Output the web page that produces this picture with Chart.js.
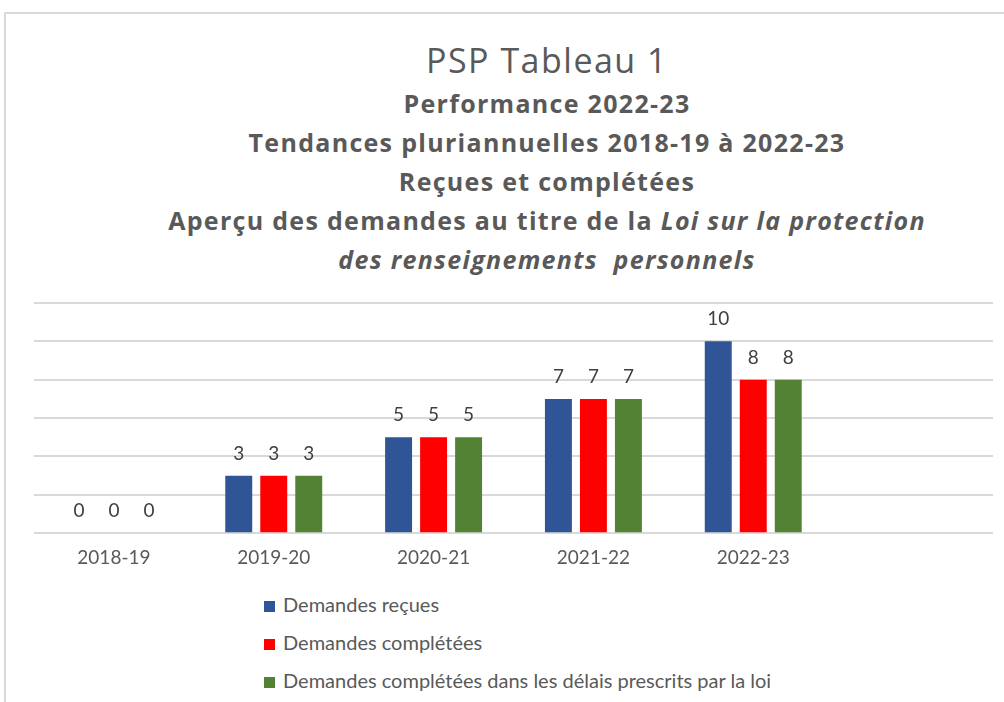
<!DOCTYPE html>
<html lang="fr">
<head>
  <meta charset="UTF-8">
  <title>PSP Tableau 1</title>
  <script src="https://cdn.jsdelivr.net/npm/chart.js"></script>
  <style>
    body {
      margin: 0;
      background: #fff;
      font-family: Lato, "Open Sans", sans-serif;
      color: #595959;
    }
    .frame {
      position: absolute;
      left: 4px;
      top: 12px;
      width: 1100px;
      height: 800px;
      border: 2px solid #d9d9d9;
    }
    .titles {
      position: absolute;
      left: 0;
      width: 1094px;
      text-align: center;
      white-space: nowrap;
      font-family: "Open Sans", sans-serif;
    }
    .main-title {
      top: 38px;
      font-size: 34px;
      letter-spacing: 1.5px;
      line-height: 44px;
    }
    .sub-title {
      top: 84px;
      font-size: 25px;
      letter-spacing: 1.3px;
      font-weight: bold;
      line-height: 39px;
    }
    .chart-box {
      position: absolute;
      left: 0;
      top: 280px;
      width: 1004px;
      height: 302px;
    }
    .legend {
      position: absolute;
      left: 264px;
      top: 590px;
      font-size: 20px;
    }
    .legend div {
      height: 38px;
      line-height: 28px;
      white-space: nowrap;
    }
    .legend span {
      display: inline-block;
      width: 11px;
      height: 11px;
      margin-right: 8px;
      vertical-align: 0px;
    }
  </style>
</head>
<body>
<div class="frame"></div>
<div class="titles main-title">PSP Tableau 1</div>
<div class="titles sub-title">
  Performance 2022-23<br>
  Tendances pluriannuelles 2018-19 à 2022-23<br>
  Reçues et complétées<br>
  Aperçu des demandes au titre de la <i>Loi sur la protection</i><br>
  <i>des renseignements&nbsp; personnels</i>
</div>
<div class="chart-box">
  <canvas id="psp1" width="1004" height="302"></canvas>
</div>
<div class="legend" id="legend"></div>

<script>
  // data (last category is left empty, as in the original)
  var years = ['2018-19', '2019-20', '2020-21', '2021-22', '2022-23', ''];
  var recues = [0, 3, 5, 7, 10, null];
  var completees = [0, 3, 5, 7, 8, null];
  var dansDelais = [0, 3, 5, 7, 8, null];
  var seriesNames = [
    'Demandes reçues',
    'Demandes complétées',
    'Demandes complétées dans les délais prescrits par la loi'
  ];
  var seriesColors = ['#2F5597', '#FF0000', '#548235'];
  var yTicks = [0, 2, 4, 6, 8, 10, 12];

  // small plugin to write the values over the bars (no datalabels plugin offline)
  var valueLabels = {
    id: 'valueLabels',
    afterDatasetsDraw: function(chart) {
      var ctx = chart.ctx;
      ctx.save();
      ctx.font = '19px Lato';
      ctx.fillStyle = '#404040';
      ctx.textAlign = 'center';
      ctx.textBaseline = 'middle';
      chart.data.datasets.forEach(function(ds, i) {
        chart.getDatasetMeta(i).data.forEach(function(bar, j) {
          if (ds.data[j] === null) return;
          ctx.fillText(ds.data[j], bar.x, bar.y - 22);
        });
      });
      ctx.restore();
    }
  };

  var allSeries = [recues, completees, dansDelais];
  var ctx = document.getElementById('psp1').getContext('2d');
  var chart = new Chart(ctx, {
    type: 'bar',
    data: {
      labels: years,
      datasets: allSeries.map(function(vals, i) {
        return {
          label: seriesNames[i],
          data: vals,
          backgroundColor: seriesColors[i],
          categoryPercentage: 0.657,
          barPercentage: 0.77
        };
      })
    },
    options: {
      responsive: false,
      animation: false,
      layout: {
        padding: { left: 34, right: 11, top: 23, bottom: 0 }
      },
      scales: {
        x: {
          grid: { display: false, drawTicks: false },
          border: { display: false },
          ticks: {
            color: '#595959',
            font: { family: 'Lato', size: 19 },
            padding: 13
          }
        },
        y: {
          min: 0,
          max: 12,
          afterFit: function(scale) { scale.width = 0; },
          afterBuildTicks: function(scale) {
            scale.ticks = yTicks.map(function(v) { return { value: v }; });
          },
          grid: { color: '#d9d9d9', lineWidth: 2, drawTicks: false },
          border: { display: false },
          ticks: { display: false }
        }
      },
      plugins: {
        legend: { display: false },
        tooltip: { enabled: false }
      }
    },
    plugins: [valueLabels]
  });

  // vertical legend like the original
  var legend = document.getElementById('legend');
  seriesNames.forEach(function(name, i) {
    var row = document.createElement('div');
    var box = document.createElement('span');
    box.style.background = seriesColors[i];
    row.appendChild(box);
    row.appendChild(document.createTextNode(name));
    legend.appendChild(row);
  });
</script>
</body>
</html>
